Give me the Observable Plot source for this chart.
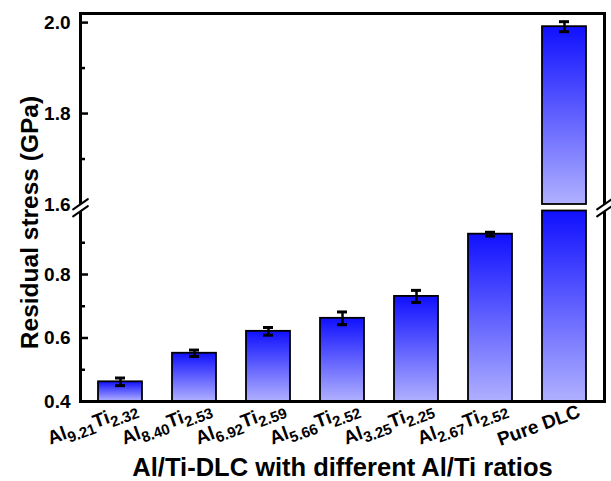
<!DOCTYPE html>
<html><head><meta charset="utf-8">
<script src="https://cdn.jsdelivr.net/npm/d3@7"></script>
<script src="https://cdn.jsdelivr.net/npm/@observablehq/plot@0.6"></script>
<style>body{margin:0;background:#fff;}</style>
</head><body><div id="chart"></div>
<script>
// ---- data ----
const categories = ["Al9.21Ti2.32","Al8.40Ti2.53","Al6.92Ti2.59","Al5.66Ti2.52","Al3.25Ti2.25","Al2.67Ti2.52","Pure DLC"];
const alSub = ["9.21","8.40","6.92","5.66","3.25","2.67",null];
const tiSub = ["2.32","2.53","2.59","2.52","2.25","2.52",null];
const stress = [0.462, 0.552, 0.621, 0.662, 0.731, 0.927, 1.991];
const stressErr = [0.012, 0.010, 0.012, 0.020, 0.019, 0.006, 0.011];
const majorTicks = [0.4, 0.6, 0.8, 1.6, 1.8, 2.0];
const minorTicks = [0.5, 0.7, 0.9, 1.7, 1.9];
const yDomain = [0.4, 1.0, 1.6, 2.02]; // broken axis: lower segment, upper segment
const xTitle = "Al/Ti-DLC with different Al/Ti ratios";
const yTitle = "Residual stress (GPa)";

// ---- derived tables ----
const rows = categories.map((c, i) => ({
  cat: c, v: stress[i], e: stressErr[i],
  label: alSub[i] ? `Al|${alSub[i]}|Ti|${tiSub[i]}` : c
}));
const subRows = rows.filter(r => r.label.includes("|"));
const plainRows = rows.filter(r => !r.label.includes("|"));
const segments = [];
for (const r of rows) {
  if (r.v > yDomain[1]) {
    segments.push({cat: r.cat, y1: yDomain[0], y2: yDomain[1]});
    segments.push({cat: r.cat, y1: yDomain[2], y2: r.v});
  } else segments.push({cat: r.cat, y1: yDomain[0], y2: r.v});
}
const breakMid = [(yDomain[1] + yDomain[2]) / 2];
const slash = {draw(ctx, l) { ctx.moveTo(0, l / 2); ctx.lineTo(0, -l / 2); }};
const font = "Arial, 'Liberation Sans', sans-serif";

function defs() {
  const ns = "http://www.w3.org/2000/svg";
  const d = document.createElementNS(ns, "defs");
  const g = document.createElementNS(ns, "linearGradient");
  g.setAttribute("id", "barGrad");
  g.setAttribute("x1", "0"); g.setAttribute("y1", "0");
  g.setAttribute("x2", "0"); g.setAttribute("y2", "1");
  [["0%", "#1010ff"], ["100%", "#b0b0ff"]].forEach(([o, c]) => {
    const s = document.createElementNS(ns, "stop");
    s.setAttribute("offset", o); s.setAttribute("stop-color", c);
    g.appendChild(s);
  });
  d.appendChild(g);
  return d;
}

const breakMarks = [];
for (const anchor of ["left", "right"]) {
  breakMarks.push(Plot.vector(breakMid, {y: d => d, frameAnchor: anchor, anchor: "start", length: 18, rotate: 55, shape: slash, stroke: "white", strokeWidth: 7}));
  for (const off of [-3.5, 3.5])
    breakMarks.push(Plot.vector(breakMid, {y: d => d, frameAnchor: anchor, anchor: "start", length: 18, rotate: 55, shape: slash, stroke: "black", strokeWidth: 2, dy: off}));
}

const labelStyle = {x: "cat", text: "label", frameAnchor: "bottom", rotate: -20, textAnchor: "end", lineAnchor: "bottom", fontSize: 19, fontWeight: "bold", fill: "black"};

const plot = Plot.plot({
  width: 611, height: 481,
  marginLeft: 80, marginRight: 7, marginTop: 13, marginBottom: 80,
  style: {fontFamily: font, background: "white", overflow: "visible"},
  x: {type: "band", domain: categories, paddingInner: 0.4, paddingOuter: 0.2, axis: null},
  y: {type: "linear", domain: yDomain, range: [401, 210.5, 204, 13], axis: null},
  marks: [
    defs,
    Plot.barY(segments, {x: "cat", y1: "y1", y2: "y2", fill: "url(#barGrad)", stroke: "black", strokeWidth: 1.8}),
    Plot.ruleX(rows, {x: "cat", y1: d => d.v - d.e, y2: d => d.v + d.e, stroke: "black", strokeWidth: 2.5}),
    Plot.tickY(rows, {x: "cat", y: d => d.v - d.e, insetLeft: 17, insetRight: 17, stroke: "black", strokeWidth: 3}),
    Plot.tickY(rows, {x: "cat", y: d => d.v + d.e, insetLeft: 17, insetRight: 17, stroke: "black", strokeWidth: 3}),
    Plot.frame({stroke: "black", strokeWidth: 3}),
    Plot.axisY(majorTicks, {tickSize: 8, dx: 8, tickPadding: 10, fontSize: 19, fontWeight: "bold", strokeWidth: 2.5, label: null, tickFormat: d => d.toFixed(1)}),
    Plot.axisY(minorTicks, {tickSize: 5, dx: 5, tickFormat: () => "", strokeWidth: 2.5, label: null}),
    ...breakMarks,
    Plot.text([yTitle], {frameAnchor: "left", dx: -50, dy: 15, rotate: -90, textAnchor: "middle", lineAnchor: "middle", fontSize: 24.5, fontWeight: "bold", fill: "black"}),
    Plot.text([xTitle], {frameAnchor: "bottom", dy: 66, textAnchor: "middle", lineAnchor: "middle", fontSize: 25.5, fontWeight: "bold", fill: "black"}),
    Plot.text(subRows, {...labelStyle, dx: 18, dy: 11}),
    Plot.text(plainRows, {...labelStyle, dx: 17, dy: 15})
  ]
});

// render subscripts in the category labels
d3.select(plot).selectAll("text").each(function () {
  const t = this.textContent;
  if (!t.includes("|")) return;
  const parts = t.split("|");
  const sel = d3.select(this);
  sel.text(null);
  parts.forEach((p, i) => {
    const sub = i % 2 === 1;
    const ts = sel.append("tspan").text(p);
    if (sub) ts.attr("font-size", 15).attr("dy", 5);
    else if (i > 0) ts.attr("dy", -5);
  });
});

document.getElementById("chart").appendChild(plot);
</script>
</body></html>
